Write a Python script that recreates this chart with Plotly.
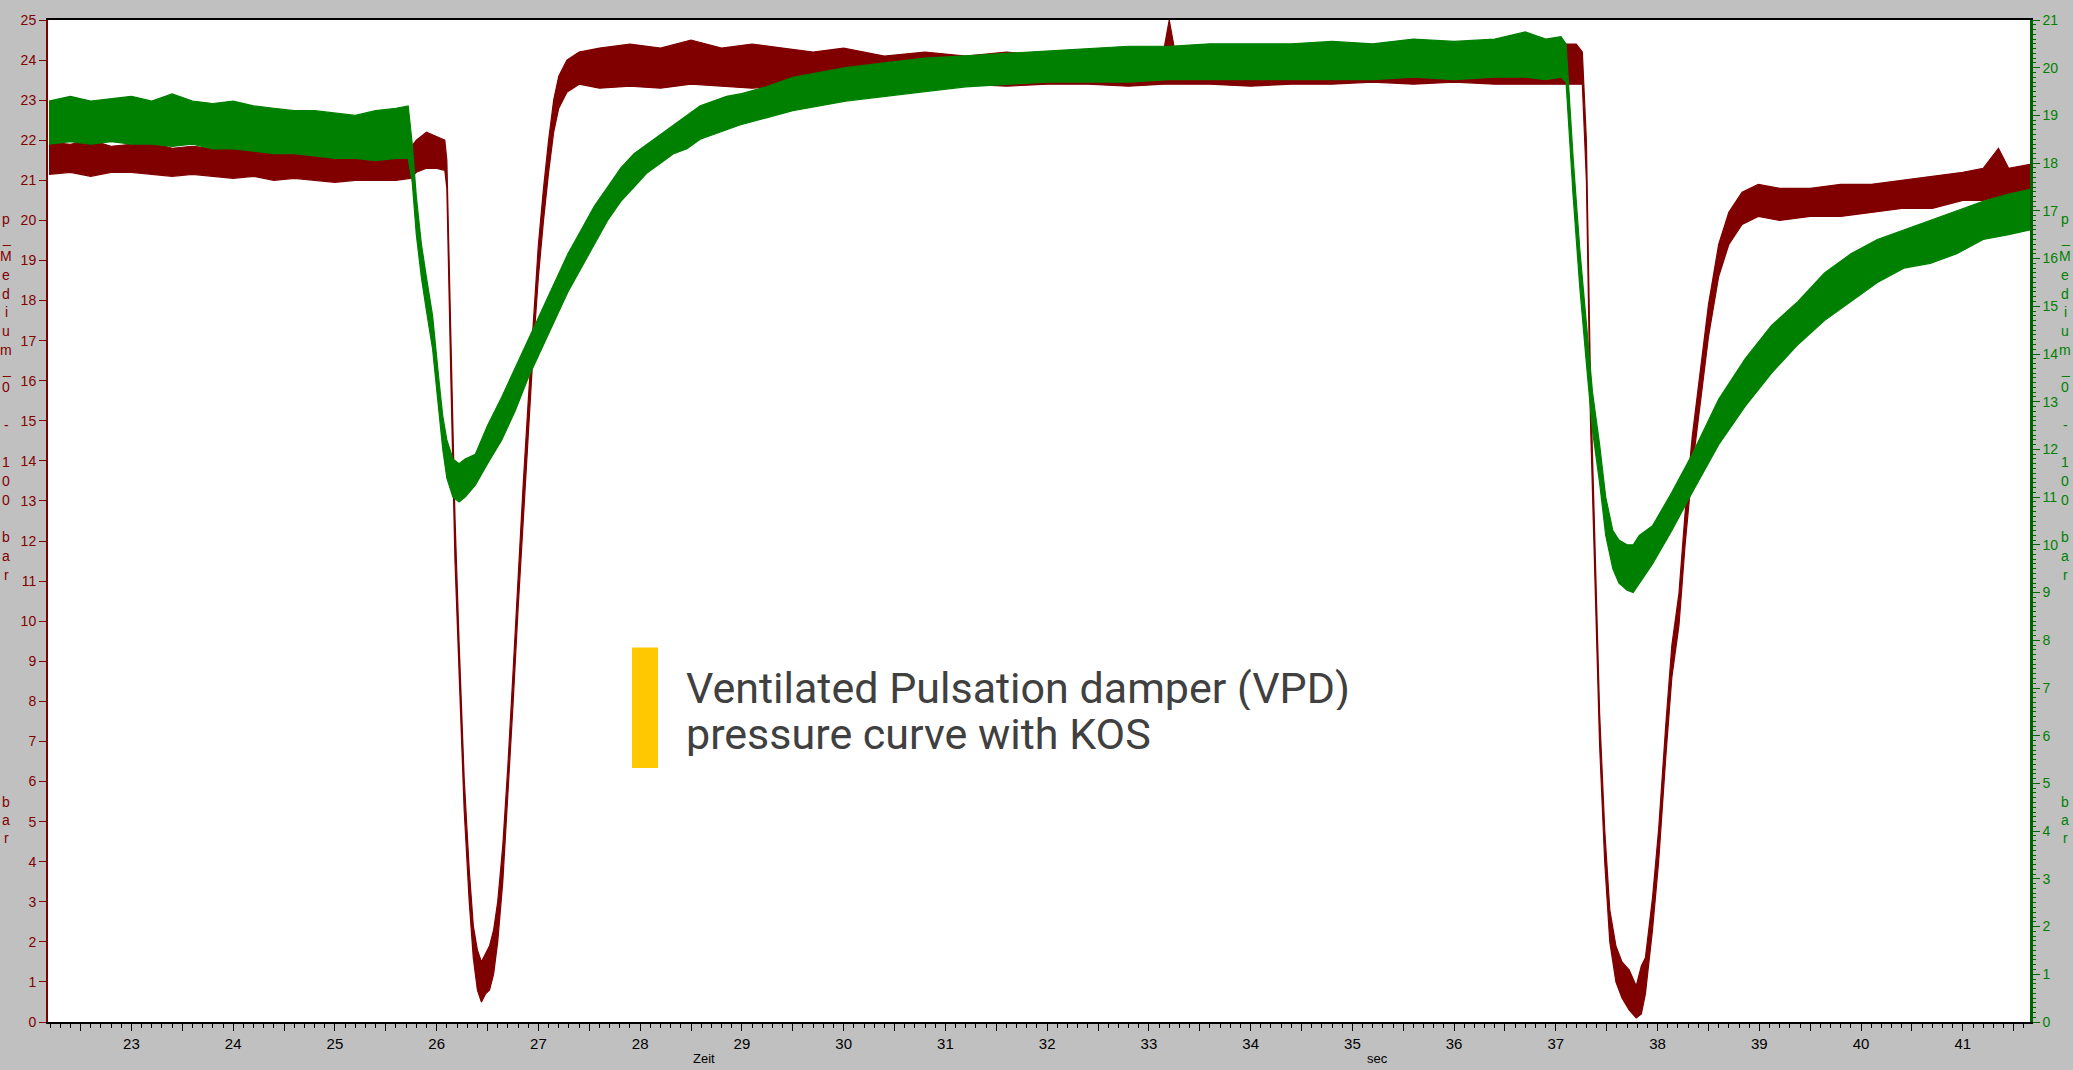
import plotly.graph_objects as go

# ---------------- data ----------------
# red trace: p_Medium (left axis, 0..25 bar) -> time, lower and upper envelope of the noisy signal
t_red = [22.19, 22.4, 22.6, 22.8, 23.0, 23.2, 23.4, 23.6, 23.8, 24.0, 24.2, 24.4, 24.6, 24.8,
         25.0, 25.2, 25.4, 25.6, 25.74, 25.8, 25.9, 26.0, 26.08,
         26.10, 26.14, 26.18, 26.22, 26.27, 26.32, 26.36, 26.40, 26.44, 26.48, 26.52, 26.56,
         26.60, 26.65, 26.70, 26.75, 26.80, 26.85, 26.90, 26.95, 27.00, 27.05, 27.10, 27.15,
         27.20, 27.28, 27.4,
         27.6, 27.9, 28.2, 28.5, 28.8, 29.1, 29.4, 29.7, 30.0, 30.4, 30.8, 31.2, 31.6, 32.0,
         32.4, 32.8, 33.15, 33.2, 33.25, 33.6, 34.0, 34.4, 34.8, 35.2, 35.6, 36.0, 36.4, 36.8,
         37.0, 37.2, 37.26,
         37.30, 37.34, 37.38, 37.43, 37.48, 37.53, 37.59, 37.65, 37.72, 37.79, 37.84, 37.88,
         37.95, 38.01, 38.08, 38.14, 38.21, 38.27, 38.34, 38.42, 38.50, 38.60, 38.70, 38.83,
         38.99, 39.2, 39.5, 39.8, 40.1, 40.4, 40.7, 41.0, 41.2, 41.35, 41.45, 41.66]
red_lo = [21.15, 21.2, 21.1, 21.2, 21.2, 21.15, 21.1, 21.15, 21.1, 21.05, 21.1, 21.0, 21.05, 21.0,
          20.95, 21.0, 21.0, 21.0, 21.05, 21.2, 21.3, 21.3, 21.25,
          20.8, 16.0, 11.5, 8.5, 5.3, 3.0, 1.6, 0.8, 0.5, 0.7, 0.8, 1.2,
          2.0, 3.5, 5.6, 7.9, 10.3, 12.6, 14.7, 16.8, 18.6, 20.0, 21.2, 22.2,
          22.8, 23.2, 23.4,
          23.3, 23.35, 23.3, 23.4, 23.35, 23.3, 23.35, 23.35, 23.4, 23.35, 23.35, 23.4, 23.35, 23.4,
          23.4, 23.35, 23.4, 23.4, 23.4, 23.4, 23.35, 23.4, 23.4, 23.45, 23.4, 23.45, 23.4, 23.4,
          23.4, 23.4, 23.4,
          21.0, 15.0, 11.1, 6.9, 4.0, 2.0, 1.0, 0.6, 0.3, 0.1, 0.2, 0.7,
          2.3, 4.0, 6.6, 8.6, 9.9, 11.9, 13.8, 15.5, 17.1, 18.6, 19.4, 19.9,
          20.1, 20.0, 20.1, 20.1, 20.2, 20.3, 20.3, 20.5, 20.5, 20.6, 20.6, 20.7]
red_hi = [21.95, 21.9, 22.0, 21.85, 21.9, 21.95, 21.8, 21.85, 21.8, 21.8, 21.75, 21.8, 21.7, 21.75,
          21.7, 21.75, 21.65, 21.7, 21.8, 22.0, 22.2, 22.1, 22.0,
          21.5, 17.0, 12.6, 9.5, 6.1, 3.8, 2.4, 1.8, 1.5, 1.7, 1.9, 2.3,
          3.0, 4.4, 6.4, 8.7, 11.1, 13.4, 15.5, 17.6, 19.4, 20.8, 22.0, 23.0,
          23.6, 24.0, 24.2,
          24.3, 24.4, 24.3, 24.5, 24.3, 24.4, 24.3, 24.2, 24.3, 24.1, 24.2, 24.1, 24.2, 24.1,
          24.1, 24.2, 24.3, 25.0, 24.3, 24.1, 24.1, 24.2, 24.1, 24.2, 24.2, 24.1, 24.2, 24.3,
          24.4, 24.4, 24.2,
          22.0, 16.0, 12.1, 7.7, 4.8, 2.8, 1.9, 1.5, 1.3, 0.9, 1.4, 1.6,
          3.1, 4.8, 7.4, 9.4, 10.7, 12.7, 14.6, 16.3, 17.9, 19.4, 20.2, 20.7,
          20.9, 20.8, 20.8, 20.9, 20.9, 21.0, 21.1, 21.2, 21.3, 21.8, 21.3, 21.4]

# green trace: p_Medium (right axis, 0..21 bar)
t_green = [22.19, 22.4, 22.6, 22.8, 23.0, 23.2, 23.4, 23.6, 23.8, 24.0, 24.2, 24.4, 24.6, 24.8,
           25.0, 25.2, 25.4, 25.6, 25.72,
           25.76, 25.80, 25.85, 25.90, 25.96, 26.02, 26.06, 26.10, 26.16, 26.22, 26.28, 26.38,
           26.50, 26.64, 26.77, 26.90, 27.03, 27.16, 27.29, 27.42, 27.55, 27.68, 27.81, 27.94,
           28.07, 28.20, 28.33, 28.46, 28.59, 28.72, 28.85, 28.98, 29.24, 29.50, 29.76, 30.02,
           30.4, 30.8, 31.2, 31.6, 32.0, 32.4, 32.8, 33.2, 33.6, 34.0, 34.4, 34.8, 35.2, 35.6,
           36.0, 36.4, 36.7, 36.9, 37.05, 37.10,
           37.17, 37.235, 37.30, 37.36, 37.43, 37.49, 37.56, 37.62, 37.70, 37.76, 37.82, 37.95,
           38.14, 38.34, 38.60, 38.86, 39.12, 39.38, 39.64, 39.90, 40.16, 40.42, 40.68, 40.94,
           41.20, 41.45, 41.66]
green_lo = [18.4, 18.45, 18.4, 18.45, 18.4, 18.4, 18.35, 18.4, 18.3, 18.3, 18.25, 18.2, 18.2, 18.15,
            18.1, 18.1, 18.05, 18.1, 18.1,
            17.6, 16.5, 15.6, 14.9, 14.1, 12.8, 12.0, 11.4, 11.0, 10.9, 11.0, 11.25,
            11.7, 12.2, 12.8, 13.5, 14.1, 14.7, 15.3, 15.8, 16.3, 16.8, 17.2, 17.5,
            17.8, 18.0, 18.2, 18.3, 18.5, 18.6, 18.7, 18.8, 18.95, 19.1, 19.2, 19.3,
            19.4, 19.5, 19.6, 19.65, 19.7, 19.7, 19.7, 19.75, 19.75, 19.75, 19.75, 19.75, 19.75, 19.8,
            19.75, 19.8, 19.8, 19.75, 19.8, 19.7,
            17.3, 15.4, 13.8, 12.4, 11.3, 10.2, 9.5, 9.2, 9.05, 9.0, 9.2, 9.6,
            10.3, 11.1, 12.1, 12.9, 13.6, 14.2, 14.7, 15.1, 15.5, 15.8, 15.9, 16.1,
            16.4, 16.5, 16.6]
green_hi = [19.3, 19.4, 19.3, 19.35, 19.4, 19.3, 19.45, 19.3, 19.25, 19.3, 19.2, 19.15, 19.1, 19.1,
            19.05, 19.0, 19.1, 19.15, 19.2,
            18.4, 17.3, 16.3, 15.6, 14.8, 13.5, 12.7, 12.2, 11.8, 11.7, 11.8, 11.9,
            12.5, 13.1, 13.7, 14.3, 14.9, 15.5, 16.1, 16.6, 17.1, 17.5, 17.9, 18.2,
            18.4, 18.6, 18.8, 19.0, 19.2, 19.3, 19.4, 19.45, 19.6, 19.8, 19.9, 20.0,
            20.1, 20.2, 20.25, 20.3, 20.35, 20.4, 20.45, 20.45, 20.5, 20.5, 20.5, 20.55, 20.5, 20.6,
            20.55, 20.6, 20.75, 20.6, 20.65, 20.5,
            18.1, 16.2, 14.6, 13.2, 12.1, 11.0, 10.3, 10.1, 10.0, 10.0, 10.2, 10.4,
            11.1, 11.9, 13.05, 13.9, 14.6, 15.1, 15.7, 16.1, 16.4, 16.6, 16.8, 17.0,
            17.2, 17.35, 17.45]

x_tick_vals = [22.5 + 0.5 * i for i in range(39)]
x_tick_text = [str(int(v)) if v == int(v) else "" for v in x_tick_vals]
left_title = "p_Medium_0 - 100 bar"
unit_title = "bar"
note_lines = ["Ventilated Pulsation damper (VPD)", "pressure curve with KOS"]

# ---------------- styling ----------------
RED = "#800000"
GREEN = "#008000"
GREEN_AX = "#006400"
BG = "#C0C0C0"
W, H = 2073, 1070
PL, PR, PT, PB = 48, 2030, 16, 1022


def px(x):
    return (x - PL) / (PR - PL)


def py(y):
    return (PB - y) / (PB - PT)


fig = go.Figure()
fig.add_trace(go.Scatter(
    x=t_red + t_red[::-1], y=red_hi + red_lo[::-1], mode="lines", fill="toself",
    fillcolor=RED, line=dict(color=RED, width=1.2), yaxis="y",
    hoverinfo="skip", showlegend=False))
fig.add_trace(go.Scatter(
    x=t_green + t_green[::-1], y=green_hi + green_lo[::-1], mode="lines", fill="toself",
    fillcolor=GREEN, line=dict(color=GREEN, width=1.2), yaxis="y2",
    hoverinfo="skip", showlegend=False))

tick_font = "Liberation Sans, Arial, sans-serif"
annotations = []
# stacked vertical axis titles
for k, ch in enumerate(left_title):
    if ch == " ":
        continue
    yy = 215.6 + k * 18.8
    annotations.append(dict(x=px(6), y=py(yy), xref="paper", yref="paper", text=ch,
                            showarrow=False, xanchor="center", yanchor="middle",
                            font=dict(family=tick_font, size=14, color=RED)))
    annotations.append(dict(x=px(2065), y=py(yy), xref="paper", yref="paper", text=ch,
                            showarrow=False, xanchor="center", yanchor="middle",
                            font=dict(family=tick_font, size=14, color=GREEN)))
for k, ch in enumerate(unit_title):
    yy = 801 + k * 18
    annotations.append(dict(x=px(6), y=py(yy), xref="paper", yref="paper", text=ch,
                            showarrow=False, xanchor="center", yanchor="middle",
                            font=dict(family=tick_font, size=14, color=RED)))
    annotations.append(dict(x=px(2065), y=py(yy), xref="paper", yref="paper", text=ch,
                            showarrow=False, xanchor="center", yanchor="middle",
                            font=dict(family=tick_font, size=14, color=GREEN)))
# x axis labels
annotations.append(dict(x=px(704), y=py(1059), xref="paper", yref="paper", text="Zeit",
                        showarrow=False, xanchor="center", yanchor="middle",
                        font=dict(family=tick_font, size=13, color="black")))
annotations.append(dict(x=px(1377), y=py(1059), xref="paper", yref="paper", text="sec",
                        showarrow=False, xanchor="center", yanchor="middle",
                        font=dict(family=tick_font, size=13, color="black")))
# note text
for i, line in enumerate(note_lines):
    annotations.append(dict(x=px(684), y=py(687 + 46 * i), xref="paper", yref="paper",
                            text=line, showarrow=False, xanchor="left", yanchor="middle",
                            height=44, valign="middle",
                            font=dict(family="Roboto, Liberation Sans, sans-serif", size=43,
                                      color="#404040")))

fig.update_layout(
    width=W, height=H, autosize=False,
    margin=dict(l=PL, r=W - PR, t=PT, b=H - PB, pad=0),
    paper_bgcolor=BG, plot_bgcolor="white",
    showlegend=False,
    xaxis=dict(range=[22.18, 41.66], tickmode="array", tickvals=x_tick_vals,
               ticktext=x_tick_text, ticks="outside", ticklen=7, tickwidth=1,
               tickcolor="black", showline=True, linecolor="black", linewidth=1.5,
               mirror=True, showgrid=False, zeroline=False,
               tickfont=dict(family=tick_font, size=15, color="black"),
               minor=dict(dtick=0.1, tick0=0, ticks="outside", ticklen=4,
                          tickcolor="black", tickwidth=1, showgrid=False)),
    yaxis=dict(range=[0, 25], tickmode="linear", tick0=0, dtick=1, ticks="outside",
               ticklen=7, tickwidth=1, tickcolor=RED, showline=True, linecolor=RED,
               linewidth=2, showgrid=False, zeroline=False,
               tickfont=dict(family=tick_font, size=14, color=RED)),
    yaxis2=dict(range=[0, 21], overlaying="y", side="right", tickmode="linear", tick0=0,
                dtick=1, ticks="outside", ticklen=7, tickwidth=1, tickcolor=GREEN_AX,
                showline=True, linecolor=GREEN_AX, linewidth=2.5, showgrid=False,
                zeroline=False, tickfont=dict(family=tick_font, size=14, color=GREEN),
                minor=dict(dtick=0.1, tick0=0, ticks="outside", ticklen=3,
                           tickcolor=GREEN_AX, tickwidth=1, showgrid=False)),
    shapes=[dict(type="rect", xref="paper", yref="paper", x0=px(632), x1=px(658),
                 y0=py(767), y1=py(646), fillcolor="#FFC800", line=dict(width=0),
                 layer="above")],
    annotations=annotations,
)

fig.write_html("out.html", config={"displayModeBar": False},
               post_script="document.body.style.margin='0';document.body.style.overflow='hidden';")
